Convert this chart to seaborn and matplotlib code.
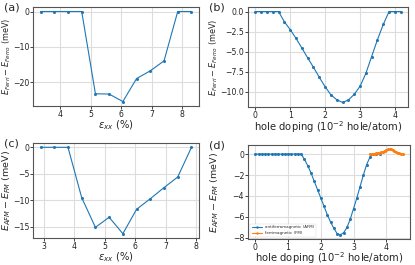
import numpy as np
import pandas as pd
import matplotlib
matplotlib.use("Agg")
import matplotlib.pyplot as plt
import seaborn as sns

# ---- data ----
strain_a = [3.35, 3.8, 4.25, 4.7, 5.15, 5.6, 6.05, 6.5, 6.95, 7.4, 7.85, 8.3]
energy_a = [0, 0, 0, 0, -23.3, -23.4, -25.5, -19.0, -16.8, -14.0, 0, 0]

doping_b = [0, 0.167, 0.333, 0.5, 0.667, 0.833, 1.0, 1.167, 1.333, 1.5, 1.667,
            1.833, 2.0, 2.167, 2.333, 2.5, 2.667, 2.833, 3.0, 3.167, 3.333,
            3.5, 3.667, 3.833, 4.0, 4.167]
energy_b = [0, 0, 0, 0, 0, -1.27, -2.24, -3.33, -4.52, -5.75, -6.93, -8.16,
            -9.34, -10.35, -10.96, -11.3, -11.0, -10.3, -9.3, -7.7, -5.6,
            -3.5, -1.6, 0, 0, 0]

strain_c = [2.9, 3.35, 3.8, 4.25, 4.7, 5.15, 5.6, 6.05, 6.5, 6.95, 7.4, 7.85]
energy_c = [0, 0, 0, -9.5, -15.1, -13.2, -16.3, -11.7, -9.7, -7.6, -5.6, 0]

doping_afm = [0.0, 0.1, 0.2, 0.3, 0.4, 0.5, 0.6, 0.7, 0.8, 0.9, 1.0, 1.1, 1.2,
              1.3, 1.4, 1.5, 1.6, 1.7, 1.8, 1.9, 2.0, 2.1, 2.2, 2.3, 2.4, 2.5,
              2.6, 2.7, 2.8, 2.9, 3.0, 3.1, 3.2, 3.3, 3.4, 3.5, 3.6, 3.7, 3.8]
energy_afm = [0, 0, 0, 0, 0, 0, 0, 0, 0, 0, 0, 0, 0, 0, 0, -0.5, -1.1, -1.8,
              -2.6, -3.4, -4.2, -5.0, -5.8, -6.5, -7.1, -7.6, -7.7, -7.5, -7.0,
              -6.2, -5.2, -4.2, -3.1, -2.0, -1.0, -0.3, 0, 0, 0]

doping_fm = [3.5, 3.55, 3.6, 3.65, 3.7, 3.75, 3.8, 3.85, 3.9, 3.95, 4.0, 4.05,
             4.1, 4.15, 4.2, 4.25, 4.3, 4.35, 4.4, 4.45, 4.5]
energy_fm = [0, 0, 0.02, 0.04, 0.06, 0.08, 0.12, 0.17, 0.23, 0.3, 0.38, 0.44,
             0.46, 0.44, 0.37, 0.28, 0.2, 0.12, 0.06, 0.03, 0.02]

ylab_ferri = r"$E_{Ferri}-E_{Ferro}$ (meV)"
ylab_afm = r"$E_{AFM}-E_{FM}$ (meV)"
xlab_strain = r"$\epsilon_{xx}$ (%)"
xlab_dop = r"hole doping ($10^{-2}$ hole/atom)"

sns.set_style("whitegrid", {"axes.edgecolor": "#555555", "grid.color": "#dddddd",
                            "xtick.bottom": True, "ytick.left": True})
plt.rcParams['font.family'] = ['DejaVu Sans']
plt.rcParams['axes.linewidth'] = 0.8

fig = plt.figure(figsize=(4.15, 2.65), dpi=100)
W, H = 415, 265
def add_ax(l, t, r, b):
    return fig.add_axes([l / W, 1 - b / H, (r - l) / W, (b - t) / H])

ax_a = add_ax(33, 7, 199, 106)
ax_b = add_ax(248, 7, 408, 107)
ax_c = add_ax(33, 143, 199, 238)
ax_d = add_ax(248, 145, 410, 239)

blue = "#1f77b4"
orange = "#ff7f0e"
kw = dict(marker="o", markersize=2.2, linewidth=0.8, markeredgewidth=0)

sns.lineplot(x=strain_a, y=energy_a, ax=ax_a, color=blue, **kw)
sns.lineplot(x=doping_b, y=energy_b, ax=ax_b, color=blue, **kw)
sns.lineplot(x=strain_c, y=energy_c, ax=ax_c, color=blue, **kw)
sns.lineplot(x=doping_afm, y=energy_afm, ax=ax_d, color=blue,
             label="antiferromagnetic (AFM)", **kw)
sns.lineplot(x=doping_fm, y=energy_fm, ax=ax_d, color=orange,
             label="ferrimagnetic (FM)", **kw)

fs = 7.2
tfs = 5.6
yfs_ferri = 5.9
yfs_afm = 6.8
for ax in (ax_a, ax_b, ax_c, ax_d):
    ax.tick_params(labelsize=tfs, length=2.0, width=0.6, pad=0.8, colors="#222222")
    for s in ax.spines.values():
        s.set_linewidth(0.8)

ax_a.set_xticks([4, 5, 6, 7, 8])
ax_a.set_yticks([0, -10, -20])
ax_a.set_xlabel(xlab_strain, fontsize=fs, labelpad=-0.5)
ax_a.set_ylabel(ylab_ferri, fontsize=yfs_ferri)
ax_a.yaxis.set_label_coords(-0.118, 0.5)

ax_b.set_xticks([0, 1, 2, 3, 4])
ax_b.set_yticks([0, -2.5, -5, -7.5, -10])
ax_b.set_yticklabels(["0.0", "\u22122.5", "\u22125.0", "\u22127.5", "\u221210.0"])
ax_b.set_xlabel(xlab_dop, fontsize=fs, labelpad=-0.5)
ax_b.set_ylabel(ylab_ferri, fontsize=yfs_ferri)
ax_b.yaxis.set_label_coords(-0.172, 0.5)

ax_c.set_xticks([3, 4, 5, 6, 7, 8])
ax_c.set_yticks([0, -5, -10, -15])
ax_c.set_xlabel(xlab_strain, fontsize=fs, labelpad=-0.5)
ax_c.set_ylabel(ylab_afm, fontsize=yfs_afm)
ax_c.yaxis.set_label_coords(-0.118, 0.5)

ax_d.set_xticks([0, 1, 2, 3, 4])
ax_d.set_yticks([0, -2, -4, -6, -8])
ax_d.set_xlabel(xlab_dop, fontsize=fs, labelpad=-1)
ax_d.set_ylabel(ylab_afm, fontsize=yfs_afm)
ax_d.yaxis.set_label_coords(-0.168, 0.5)
leg = ax_d.legend(loc="lower left", fontsize=2.9, frameon=True, framealpha=0.8,
                  borderpad=0.4, handlelength=2.5, markerscale=0.8)
leg.get_frame().set_linewidth(0.3)

fig.text(4 / W, 1 - 8 / H, "(a)", fontsize=8, va="center", ha="left")
fig.text(209 / W, 1 - 8 / H, "(b)", fontsize=8, va="center", ha="left")
fig.text(4 / W, 1 - 144 / H, "(c)", fontsize=8, va="center", ha="left")
fig.text(209 / W, 1 - 145 / H, "(d)", fontsize=8, va="center", ha="left")

fig.savefig("out.png", dpi=100)
